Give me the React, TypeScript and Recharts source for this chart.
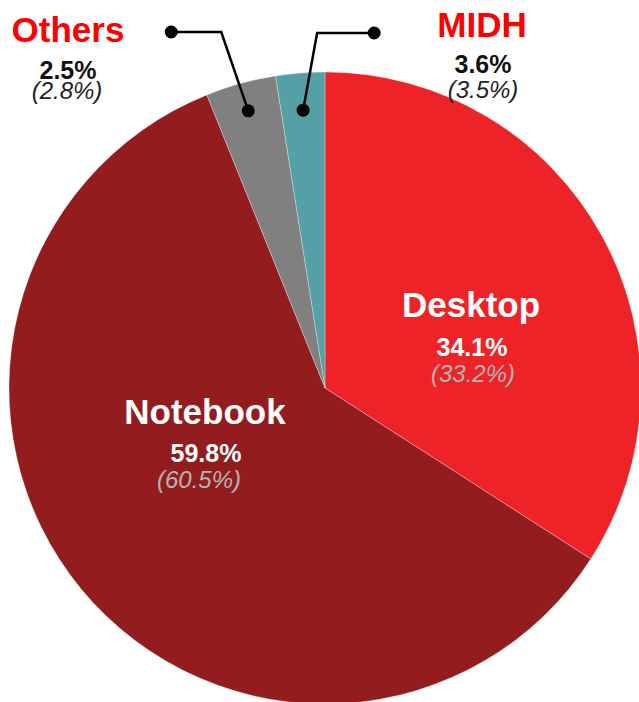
import React from 'react';
import { PieChart, Pie, Cell } from 'recharts';

// slice sizes as drawn (the grey wedge is the wider of the two small ones)
const categories = ['Desktop', 'Notebook', 'Others', 'MIDH'];
const shares = [34.1, 59.8, 3.6, 2.5];
const shareLabels = ['34.1%', '59.8%', '2.5%', '3.6%'];
const priorLabels = ['(33.2%)', '(60.5%)', '(2.8%)', '(3.5%)'];
const colors = ['#ED2327', '#931C1F', '#808080', '#54A0A6'];

const data = categories.map((name, i) => ({ name, value: shares[i] }));

const FONT = '"Liberation Sans", Arial, Helvetica, sans-serif';
const RADIAN = Math.PI / 180;

// label layout, offsets from the pie centre
const labelLayout = [
    { x: 146, y: -71, px: 147, py: -32, qx: 148, qy: -6, nameColor: '#fff', pctColor: '#fff', priorColor: '#B4B4B4' },
    { x: -120, y: 36, px: -119, py: 74, qx: -126, qy: 100, nameColor: '#fff', pctColor: '#fff', priorColor: '#B4B4B4' },
    { x: -257, y: -346, px: -257, py: -309, qx: -258, qy: -289, nameColor: '#FF0000', pctColor: '#111', priorColor: '#222' },
    { x: 157, y: -351, px: 158, py: -315, qx: 158, qy: -290, nameColor: '#FF0000', pctColor: '#111', priorColor: '#222' },
];

// leader lines for the two small slices
const leaders: Record<number, { r: number; elbowDx: number; elbowY: number; endDx: number }> = {
    2: { r: 0.91, elbowDx: -27, elbowY: -356, endDx: -50 },
    3: { r: 0.882, elbowDx: 14, elbowY: -355, endDx: 57 },
};

const renderLabel = (props: any) => {
    const { cx, cy, midAngle, outerRadius, index } = props;
    const l = labelLayout[index];
    const lead = leaders[index];
    let leader = null;
    if (lead) {
        const r = outerRadius * lead.r;
        const dx = cx + r * Math.cos(-midAngle * RADIAN);
        const dy = cy + r * Math.sin(-midAngle * RADIAN);
        const ex = dx + lead.elbowDx;
        const ey = cy + lead.elbowY;
        const fx = ex + lead.endDx;
        leader = (
            <g>
                <polyline points={`${dx},${dy} ${ex},${ey} ${fx},${ey}`} fill="none" stroke="#000" strokeWidth={2.5} />
                <circle cx={dx} cy={dy} r={6.5} fill="#000" />
                <circle cx={fx} cy={ey} r={6.5} fill="#000" />
            </g>
        );
    }
    return (
        <g key={`lbl-${index}`} fontFamily={FONT}>
            {leader}
            <text x={cx + l.x} y={cy + l.y} textAnchor="middle" fill={l.nameColor} fontSize={35} fontWeight="bold">
                {categories[index]}
            </text>
            <text x={cx + l.px} y={cy + l.py} textAnchor="middle" fill={l.pctColor} fontSize={25} fontWeight="bold">
                {shareLabels[index]}
            </text>
            <text x={cx + l.qx} y={cy + l.qy} textAnchor="middle" fill={l.priorColor} fontSize={24} fontStyle="italic">
                {priorLabels[index]}
            </text>
        </g>
    );
};

export default function App() {
    return (
        <div style={{ position: 'absolute', left: 0, top: 0, width: 639, height: 702, background: '#fff', overflow: 'hidden' }}>
            <PieChart width={639} height={702} margin={{ top: 0, right: 0, bottom: 0, left: 0 }}>
                <Pie
                    data={data}
                    dataKey="value"
                    nameKey="name"
                    cx={325}
                    cy={388}
                    outerRadius={316}
                    startAngle={90}
                    endAngle={-270}
                    stroke="#fff"
                    strokeWidth={0.3}
                    label={renderLabel}
                    labelLine={false}
                    isAnimationActive={false}
                >
                    {data.map((entry, index) => (
                        <Cell key={`cell-${index}`} fill={colors[index]} />
                    ))}
                </Pie>
            </PieChart>
        </div>
    );
}
